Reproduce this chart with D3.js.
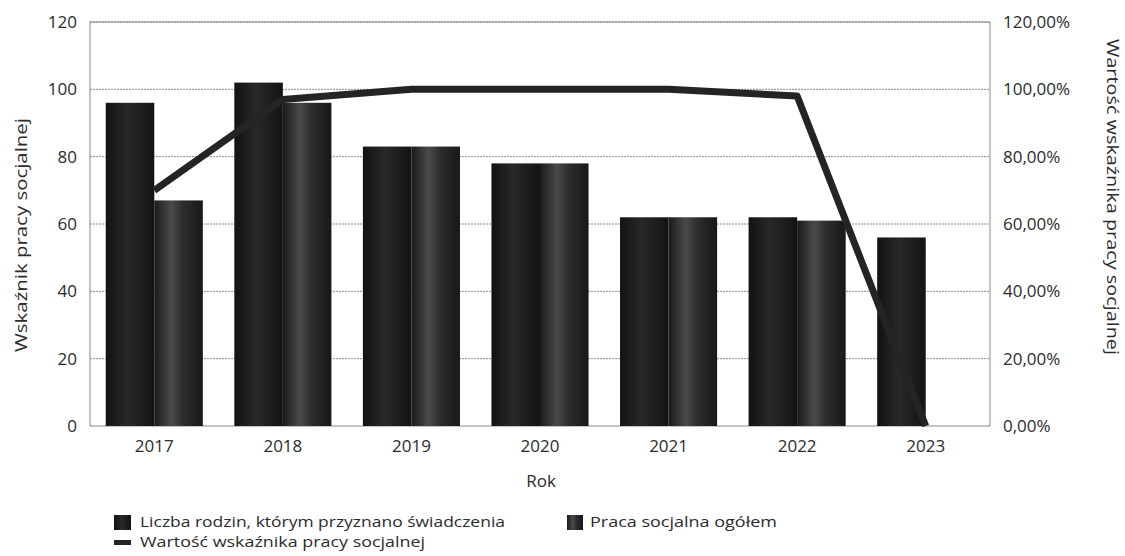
<!DOCTYPE html>
<html>
<head>
<meta charset="utf-8">
<script src="https://d3js.org/d3.v7.min.js"></script>
<style>
  body { margin: 0; background: #fff; }
  svg { font-family: "Open Sans", "Noto Sans", sans-serif; }
</style>
</head>
<body>
<svg id="chart"></svg>
<script>
  // Data
  const years = ["2017", "2018", "2019", "2020", "2021", "2022", "2023"];
  const rodziny = [96, 102, 83, 78, 62, 62, 56];          // Liczba rodzin, którym przyznano świadczenia
  const praca = [67, 96, 83, 78, 62, 61, null];            // Praca socjalna ogółem
  const wskaznik = [0.70, 0.97, 1.0, 1.0, 1.0, 0.98, 0];   // Wartość wskaźnika pracy socjalnej
  const leftTicks = [0, 20, 40, 60, 80, 100, 120];
  const rightTicks = [0, 0.2, 0.4, 0.6, 0.8, 1.0, 1.2];

  const width = 1125, height = 556;
  const plot = { left: 90, right: 990, top: 22, bottom: 426 };
  const textColor = "#2b2b2b";

  const svg = d3.select("#chart").attr("width", width).attr("height", height);

  // gradients to mimic the shaded bars
  const defs = svg.append("defs");
  const g1 = defs.append("linearGradient").attr("id", "g1");
  g1.append("stop").attr("offset", "0%").attr("stop-color", "#121212");
  g1.append("stop").attr("offset", "45%").attr("stop-color", "#282828");
  g1.append("stop").attr("offset", "100%").attr("stop-color", "#131313");
  const g2 = defs.append("linearGradient").attr("id", "g2");
  g2.append("stop").attr("offset", "0%").attr("stop-color", "#1a1a1a");
  g2.append("stop").attr("offset", "35%").attr("stop-color", "#4a4a4a");
  g2.append("stop").attr("offset", "60%").attr("stop-color", "#2c2c2c");
  g2.append("stop").attr("offset", "100%").attr("stop-color", "#181818");

  const x0 = d3.scaleBand().domain(years).range([plot.left, plot.right])
    .paddingInner(0.245).paddingOuter(0.1225);
  const x1 = d3.scaleBand().domain([0, 1]).range([0, x0.bandwidth()]);
  const y = d3.scaleLinear().domain([0, 120]).range([plot.bottom, plot.top]);
  const yR = d3.scaleLinear().domain([0, 1.2]).range([plot.bottom, plot.top]);

  // gridlines
  svg.append("g").selectAll("line").data(leftTicks.slice(1)).enter().append("line")
    .attr("x1", plot.left).attr("x2", plot.right)
    .attr("y1", d => y(d)).attr("y2", d => y(d))
    .attr("stroke", "#8a8a8a").attr("stroke-width", 1).attr("stroke-dasharray", "2,1");

  // plot border
  svg.append("rect").attr("x", plot.left).attr("y", plot.top)
    .attr("width", plot.right - plot.left).attr("height", plot.bottom - plot.top)
    .attr("fill", "none").attr("stroke", "#8a8a8a").attr("stroke-width", 1);

  // bars
  const groups = svg.append("g").selectAll("g").data(years).enter().append("g")
    .attr("transform", d => `translate(${x0(d)},0)`);
  groups.append("rect")
    .attr("x", x1(0)).attr("width", x1.bandwidth())
    .attr("y", (d, i) => y(rodziny[i])).attr("height", (d, i) => y(0) - y(rodziny[i]))
    .attr("fill", "url(#g1)");
  groups.filter((d, i) => praca[i] != null).append("rect")
    .attr("x", x1(1)).attr("width", x1.bandwidth())
    .attr("y", d => y(praca[years.indexOf(d)]))
    .attr("height", d => y(0) - y(praca[years.indexOf(d)]))
    .attr("fill", "url(#g2)");

  // line
  const line = d3.line()
    .x((d, i) => x0(years[i]) + x0.bandwidth() / 2)
    .y(d => yR(d));
  svg.append("path").datum(wskaznik)
    .attr("d", line).attr("fill", "none")
    .attr("stroke", "#242424").attr("stroke-width", 7)
    .attr("stroke-linejoin", "round");

  // axes
  const axisL = svg.append("g").attr("transform", `translate(${plot.left},0)`)
    .call(d3.axisLeft(y).tickValues(leftTicks).tickSize(0).tickPadding(13));
  const axisR = svg.append("g").attr("transform", `translate(${plot.right},0)`)
    .call(d3.axisRight(yR).tickValues(rightTicks).tickSize(0).tickPadding(13)
      .tickFormat(v => (v * 100).toFixed(2).replace(".", ",") + "%"));
  const axisB = svg.append("g").attr("transform", `translate(0,${plot.bottom})`)
    .call(d3.axisBottom(x0).tickSize(0).tickPadding(14));
  [axisL, axisR, axisB].forEach(a => {
    a.select(".domain").remove();
    a.selectAll("text").attr("font-size", 17).attr("fill", textColor)
      .attr("font-family", "'Open Sans', sans-serif");
  });

  // axis titles
  svg.append("text").attr("x", 541).attr("y", 487).attr("text-anchor", "middle")
    .attr("font-size", 17).attr("fill", textColor).text("Rok");
  svg.append("text").attr("transform", "translate(27,235) rotate(-90)")
    .attr("text-anchor", "middle").attr("font-size", 17).attr("fill", textColor)
    .attr("textLength", 234).attr("lengthAdjust", "spacingAndGlyphs")
    .text("Wskaźnik pracy socjalnej");
  svg.append("text").attr("transform", "translate(1107,197) rotate(90)")
    .attr("text-anchor", "middle").attr("font-size", 17).attr("fill", textColor)
    .attr("textLength", 316).attr("lengthAdjust", "spacingAndGlyphs")
    .text("Wartość wskaźnika pracy socjalnej");

  // legend
  const legend = svg.append("g").attr("font-size", 14).attr("fill", textColor);
  legend.append("rect").attr("x", 114).attr("y", 515).attr("width", 17).attr("height", 15).attr("fill", "url(#g1)");
  legend.append("text").attr("x", 140).attr("y", 527)
    .attr("textLength", 365).attr("lengthAdjust", "spacingAndGlyphs")
    .text("Liczba rodzin, którym przyznano świadczenia");
  legend.append("rect").attr("x", 567).attr("y", 515).attr("width", 16).attr("height", 15).attr("fill", "url(#g2)");
  legend.append("text").attr("x", 590).attr("y", 527)
    .attr("textLength", 187).attr("lengthAdjust", "spacingAndGlyphs")
    .text("Praca socjalna ogółem");
  legend.append("rect").attr("x", 114).attr("y", 540).attr("width", 17).attr("height", 5).attr("fill", "#242424");
  legend.append("text").attr("x", 140).attr("y", 547)
    .attr("textLength", 285).attr("lengthAdjust", "spacingAndGlyphs")
    .text("Wartość wskaźnika pracy socjalnej");
</script>
</body>
</html>
